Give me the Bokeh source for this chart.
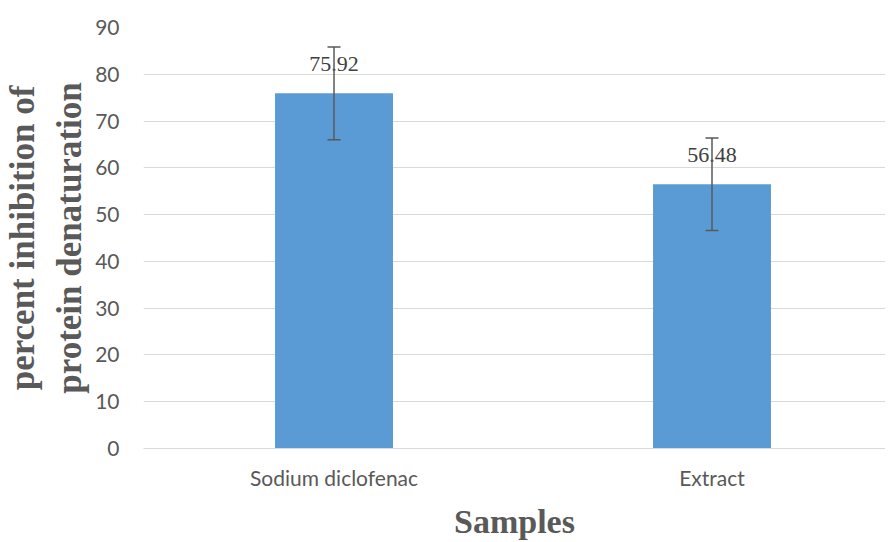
from bokeh.plotting import figure
from bokeh.models import Range1d, FixedTicker, ColumnDataSource, Whisker, LabelSet
from bokeh.embed import file_html
from bokeh.resources import INLINE

categories = ["Sodium diclofenac", "Extract"]
values = [75.92, 56.48]
errors = [9.9, 9.9]
value_labels = ["75.92", "56.48"]
y_ticks = [0, 10, 20, 30, 40, 50, 60, 70, 80, 90]

xpos = [i + 0.5 for i in range(len(categories))]
src = ColumnDataSource(dict(
    x=xpos, top=values,
    lower=[v - e for v, e in zip(values, errors)],
    upper=[v + e for v, e in zip(values, errors)],
    lab=value_labels,
))

p = figure(width=885, height=542, output_backend="svg", toolbar_location=None,
           x_range=Range1d(-0.004, 1.959), y_range=Range1d(0, 90),
           min_border_left=143, min_border_right=0, min_border_top=27, min_border_bottom=85)
p.outline_line_color = None
p.background_fill_color = "white"
p.border_fill_color = "white"

p.vbar(x="x", top="top", width=0.312, bottom=0, source=src,
       fill_color="#5b9bd5", line_color=None)

w = Whisker(base="x", lower="lower", upper="upper", source=src,
            line_color="#595959", line_width=1.5, level="overlay")
w.upper_head.size = 13
w.lower_head.size = 13
w.upper_head.line_color = "#595959"
w.lower_head.line_color = "#595959"
w.upper_head.line_width = 1.5
w.lower_head.line_width = 1.5
p.add_layout(w)

labels = LabelSet(x="x", y="top", text="lab", source=src, y_offset=22,
                  text_align="center", text_baseline="bottom",
                  text_font="Lato", text_font_size="22px", text_color="#404040")
p.add_layout(labels)

# grid
p.xgrid.grid_line_color = None
p.ygrid.grid_line_color = "#d9d9d9"
p.ygrid.grid_line_width = 1
p.yaxis.ticker = FixedTicker(ticks=y_ticks)

# y axis
p.yaxis.axis_line_color = None
p.yaxis.major_tick_line_color = None
p.yaxis.minor_tick_line_color = None
p.yaxis.major_label_text_font = "Lato"
p.yaxis.major_label_text_font_size = "21px"
p.yaxis.major_label_text_color = "#595959"
p.yaxis.major_label_standoff = 18
p.yaxis.axis_label = "percent inhibition of\nprotein denaturation"
p.yaxis.axis_label_text_font = "Liberation Serif"
p.yaxis.axis_label_text_font_style = "bold"
p.yaxis.axis_label_text_font_size = "35px"
p.yaxis.axis_label_text_color = "#595959"
p.yaxis.axis_label_standoff = 3

# x axis
p.xaxis.ticker = FixedTicker(ticks=xpos)
p.xaxis.major_label_overrides = {x: c for x, c in zip(xpos, categories)}
p.xaxis.axis_line_color = "#d9d9d9"
p.xaxis.major_tick_line_color = None
p.xaxis.minor_tick_line_color = None
p.xaxis.major_label_text_font = "Lato"
p.xaxis.major_label_text_font_size = "21px"
p.xaxis.major_label_text_color = "#595959"
p.xaxis.major_label_standoff = 10
p.xaxis.axis_label = "Samples"
p.xaxis.axis_label_text_font = "Liberation Serif"
p.xaxis.axis_label_text_font_style = "bold"
p.xaxis.axis_label_text_font_size = "34px"
p.xaxis.axis_label_text_color = "#595959"
p.xaxis.axis_label_standoff = 10

open("out.html", "w").write(file_html(p, INLINE))
